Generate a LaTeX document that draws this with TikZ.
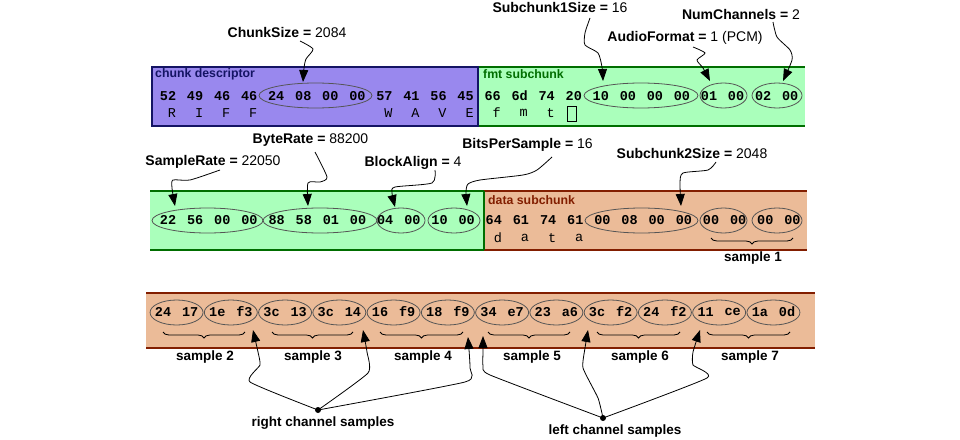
\documentclass[tikz,border=0pt]{standalone}
\usepackage{fontspec}
\setmainfont{Liberation Sans}
\newfontfamily\hexfont{Liberation Mono}
\usetikzlibrary{shapes.geometric,arrows.meta,decorations.pathreplacing}
\definecolor{purp}{RGB}{153,136,238}
\definecolor{navy}{RGB}{20,20,100}
\definecolor{grn}{RGB}{170,255,187}
\definecolor{dgrn}{RGB}{0,110,0}
\definecolor{orng}{RGB}{235,187,152}
\definecolor{dred}{RGB}{130,30,0}
\definecolor{ellc}{RGB}{85,85,85}
\tikzset{
  hexb/.style={font=\hexfont\bfseries\fontsize{13.5}{13}\selectfont, inner sep=0pt},
  ltr/.style={font=\hexfont\fontsize{13.5}{13}\selectfont, inner sep=0pt},
  lbl/.style={font=\fontsize{14}{16}\selectfont, inner sep=0pt},
  slbl/.style={font=\bfseries\fontsize{13.5}{16}\selectfont, inner sep=0pt},
  boxlbl/.style={font=\bfseries\fontsize{12.3}{13}\selectfont, inner sep=0pt, anchor=west},
  ell/.style={ellipse, draw=ellc, line width=0.8pt, inner sep=0pt},
  arr/.style={-{Triangle[length=12pt,width=9pt]}, line width=0.8pt},
  brc/.style={decorate, decoration={brace, mirror, amplitude=6pt}, line width=0.8pt},
}
\begin{document}
\begin{tikzpicture}[x=1pt,y=-1pt]
\useasboundingbox (0,0) rectangle (960,439);
\fill[white] (0,0) rectangle (960,439);
% ---------- row 1 boxes
\fill[grn] (478,67) rectangle (805,126);
\draw[dgrn, line width=1.2pt] (478,67) -- (805,67) (478,126) -- (805,126);
\draw[navy, fill=purp, line width=1.2pt] (152,67) rectangle (478,126);
\node[boxlbl, text=navy] (tChunkDesc) at (155,74) {chunk descriptor};
\node[boxlbl, text=dgrn] (tFmt) at (483,74) {fmt subchunk};
% ---------- row 2 boxes
\fill[grn] (150,191) rectangle (484,250);
\fill[orng] (484,191) rectangle (807,250);
\draw[dgrn, line width=1.2pt] (150,191) -- (484,191) (150,250) -- (484,250);
\draw[dred, line width=1.2pt] (484,191) -- (807,191) (484,250) -- (807,250);
\draw[dgrn, line width=1.4pt] (484,191) -- (484,250);
\node[boxlbl, text=dred] (tData) at (488,200) {data subchunk};
% ---------- row 3 band
\fill[orng] (146,293) rectangle (815,348);
\draw[dred, line width=1.2pt] (146,293) -- (815,293) (146,348) -- (815,348);
% ---------- bytes
\foreach \b [count=\i from 0] in {52,49,46,46,24,08,00,00,57,41,56,45,66,6d,74,20,10,00,00,00,01,00,02,00}
  \node[hexb] (r1b\i) at (168+27.05*\i,96) {\b};
\foreach \b [count=\i from 0] in {22,56,00,00,88,58,01,00,04,00,10,00,64,61,74,61,00,08,00,00,00,00,00,00}
  \node[hexb] (r2b\i) at (168+27.15*\i,220) {\b};
\foreach \b [count=\i from 0] in {24,17,1e,f3,3c,13,3c,14,16,f9,18,f9,34,e7,23,a6,3c,f2,24,f2,11,ce,1a,0d}
  \node[hexb] (r3b\i) at (163+27.13*\i,312) {\b};
% letters
\foreach \c/\i in {R/0,I/1,F/2,F/3,W/8,A/9,V/10,E/11,f/12,m/13,t/14}
  \node[ltr] (r1c\i) at (172+27.05*\i,113) {\c};
\draw[line width=1pt] (567,106) rectangle (576,121);
\foreach \c/\i in {d/12,a/13,t/14,a/15}
  \node[ltr] (r2c\i) at (172+27.15*\i,238) {\c};
% ---------- ellipses
\node[ell, minimum width=113pt, minimum height=25pt] (eChunk) at (315.5,95.5) {};
\node[ell, minimum width=114pt, minimum height=25pt] (eSub1) at (641,95.5) {};
\node[ell, minimum width=47pt, minimum height=25pt] (eAudio) at (723.5,95.5) {};
\node[ell, minimum width=50pt, minimum height=25pt] (eNum) at (777,95.5) {};
\node[ell, minimum width=111pt, minimum height=25pt] (eSR) at (207.5,220.5) {};
\node[ell, minimum width=114pt, minimum height=25pt] (eBR) at (320,220.5) {};
\node[ell, minimum width=48pt, minimum height=25pt] (eBA) at (401,220.5) {};
\node[ell, minimum width=52pt, minimum height=25pt] (eBPS) at (454,220.5) {};
\node[ell, minimum width=113pt, minimum height=25pt] (eSub2) at (641.5,220.5) {};
\node[ell, minimum width=47pt, minimum height=25pt] (eS1a) at (723.5,220.5) {};
\node[ell, minimum width=50pt, minimum height=25pt] (eS1b) at (777,220.5) {};
\foreach \j in {0,...,11}
  \node[ell, minimum width=53pt, minimum height=25pt] (e3p\j) at (163+27.13*2*\j+13.56,312.5) {};
% ---------- labels
\node[lbl] (lChunk) at (287,32) {\textbf{ChunkSize =} 2084};
\node[lbl] (lSub1) at (560,7) {\textbf{Subchunk1Size =} 16};
\node[lbl] (lNum) at (741,14) {\textbf{NumChannels =} 2};
\node[lbl] (lAudio) at (685,38) {\textbf{AudioFormat =} 1 (PCM)};
\node[lbl] (lSR) at (213,162) {\textbf{SampleRate =} 22050};
\node[lbl] (lBR) at (310.5,140) {\textbf{ByteRate =} 88200};
\node[lbl] (lBA) at (413,163) {\textbf{BlockAlign =} 4};
\node[lbl] (lBPS) at (527.5,145) {\textbf{BitsPerSample =} 16};
\node[lbl] (lSub2) at (692,153) {\textbf{Subchunk2Size =} 2048};
% ---------- arrows rows 1-2
\draw[arr] plot[smooth, tension=0.4] coordinates {(300,41) (313,49) (306,59) (304,68) (303,82)};
\draw[arr] plot[smooth, tension=0.4] coordinates {(590,18) (585,33) (585,45) (598,53) (602,67) (603,81)};
\draw[arr] plot[smooth, tension=0.4] coordinates {(693,47) (705,53) (697,60) (703,68) (710,81)};
\draw[arr] plot[smooth, tension=0.4] coordinates {(773,22) (777,37) (790,50) (792,60) (783,81)};
\draw[arr] plot[smooth, tension=0.4] coordinates {(220,170) (190,180) (173,180) (172,188) (175,206)};
\draw[arr] plot[smooth, tension=0.4] coordinates {(315,152) (327,177) (320,182) (308,183) (308,206)};
\draw[arr] plot[smooth, tension=0.4] coordinates {(435,170) (432,183) (395,187) (392,193) (395,207)};
\draw[arr] plot[smooth, tension=0.4] coordinates {(552,157) (537,170) (523,175) (480,180) (468,184) (466,192) (467,206)};
\draw[arr] plot[smooth, tension=0.4] coordinates {(716,162) (708,170) (683,173) (680,183) (681,206)};
% ---------- braces and sample labels
\draw[brc] (711,238) -- (793,238);
\node[slbl] (s1) at (753,258) {sample 1};
\foreach \a/\b/\n/\c in {163/245/2/205,272/353/3/313,380/463/4/423,488/570/5/532,597/680/6/640,707/790/7/750}{
  \draw[brc] (\a,332) -- (\b,332);
  \node[slbl] (s\n) at (\c,357) {sample \n};
}
% ---------- channel dots and arrows
\fill (318,410) circle (3pt) coordinate (dotR);
\fill (603,418) circle (3pt) coordinate (dotL);
\node[slbl] (lRight) at (323,423) {right channel samples};
\node[slbl] (lLeft) at (615,431) {left channel samples};
\draw[arr] plot[smooth, tension=0.3] coordinates {(dotR) (250,382) (260,365) (258,352) (253,330)};
\draw[arr] plot[smooth, tension=0.3] coordinates {(dotR) (368,373) (367,352) (363,330)};
\draw[arr] plot[smooth, tension=0.3] coordinates {(dotR) (465,382) (470,368) (468,337)};
\draw[arr] plot[smooth, tension=0.3] coordinates {(dotL) (490,375) (483,366) (483,352) (483,336)};
\draw[arr] plot[smooth, tension=0.3] coordinates {(dotL) (598,398) (583,368) (585,348) (588,330)};
\draw[arr] plot[smooth, tension=0.3] coordinates {(dotL) (707,378) (693,365) (693,352) (700,330)};
\end{tikzpicture}
\end{document}
